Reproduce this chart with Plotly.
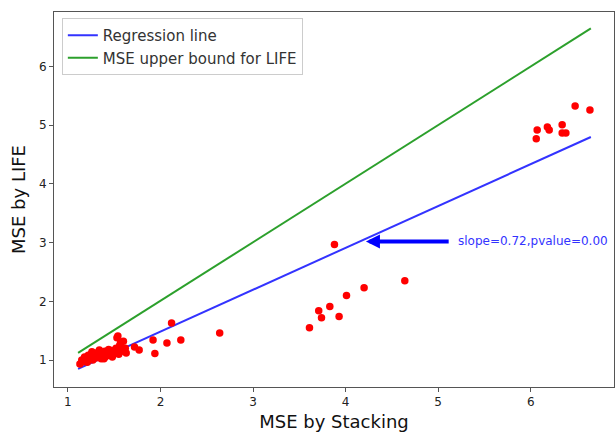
import plotly.graph_objects as go

# Scatter data: MSE by Stacking (x) vs MSE by LIFE (y)
stack_mse = [1.13, 1.15, 1.17, 1.18, 1.20, 1.21, 1.22, 1.24, 1.25, 1.27, 1.28, 1.30,
             1.31, 1.33, 1.35, 1.36, 1.38, 1.40, 1.41, 1.43, 1.45, 1.47, 1.48, 1.50,
             1.52, 1.53, 1.55, 1.56, 1.58, 1.60, 1.62, 1.63, 1.54, 1.57, 1.26, 1.34,
             1.44, 1.19, 1.39, 1.49,
             1.72, 1.77, 1.92, 1.94, 2.07, 2.12, 2.22, 2.64,
             3.61, 3.71, 3.74, 3.83, 3.88, 3.93, 4.01, 4.20, 4.64,
             6.06, 6.07, 6.18, 6.20, 6.34, 6.34, 6.38, 6.48, 6.64]
life_mse = [0.93, 1.00, 0.97, 1.05, 1.02, 0.96, 1.08, 1.03, 1.10, 1.00, 1.06, 1.12,
            1.04, 1.08, 1.13, 1.02, 1.10, 1.15, 1.06, 1.12, 1.08, 1.16, 1.05, 1.12,
            1.20, 1.38, 1.10, 1.25, 1.15, 1.32, 1.20, 1.12, 1.41, 1.30, 1.14, 1.17,
            1.18, 0.99, 1.02, 1.09,
            1.22, 1.17, 1.34, 1.11, 1.29, 1.63, 1.34, 1.46,
            1.55, 1.84, 1.72, 1.91, 2.97, 1.74, 2.10, 2.23, 2.35,
            4.77, 4.92, 4.97, 4.92, 5.01, 4.87, 4.87, 5.33, 5.26]

# Line endpoints
reg_x = [1.11, 6.65]
reg_y = [0.85, 4.80]
bound_x = [1.11, 6.65]
bound_y = [1.12, 6.65]

x_ticks = [1, 2, 3, 4, 5, 6]
y_ticks = [1, 2, 3, 4, 5, 6]

font_fam = "DejaVu Sans"

fig = go.Figure()
fig.add_trace(go.Scatter(x=reg_x, y=reg_y, mode="lines", name="Regression line",
                         line=dict(color="#3333ff", width=2)))
fig.add_trace(go.Scatter(x=bound_x, y=bound_y, mode="lines", name="MSE upper bound for LIFE",
                         line=dict(color="#2ca02c", width=2)))
fig.add_trace(go.Scatter(x=stack_mse, y=life_mse, mode="markers", showlegend=False,
                         marker=dict(color="red", size=7.5, line=dict(width=0))))

# Arrow + text annotation
fig.add_annotation(x=4.22, y=3.02, ax=5.13, ay=3.02, axref="x", ayref="y",
                   xref="x", yref="y", text="", showarrow=True,
                   arrowhead=2, arrowsize=0.7, arrowwidth=4, arrowcolor="#0000ff")
fig.add_annotation(x=5.19, y=3.02, xref="x", yref="y", text="slope=0.72,pvalue=0.00",
                   showarrow=False, xanchor="left", yanchor="middle",
                   font=dict(family=font_fam, size=12, color="#3333ff"))

axis_common = dict(showline=True, linecolor="#555", linewidth=1, mirror=True,
                   ticks="outside", ticklen=4, tickcolor="#555", showgrid=False,
                   zeroline=False, tickfont=dict(family=font_fam, size=12, color="#222"))

fig.update_xaxes(range=[0.85, 6.90], tickvals=x_ticks,
                 title=dict(text="MSE by Stacking", font=dict(family=font_fam, size=18, color="#111"),
                            standoff=6), **axis_common)
fig.update_yaxes(range=[0.54, 6.93], tickvals=y_ticks,
                 title=dict(text="MSE by LIFE", font=dict(family=font_fam, size=18, color="#111"),
                            standoff=8), **axis_common)

fig.update_layout(
    width=616, height=434,
    margin=dict(l=54, r=2, t=12, b=47),
    paper_bgcolor="white", plot_bgcolor="white",
    legend=dict(x=0.014, y=0.984, xanchor="left", yanchor="top",
                bgcolor="rgba(255,255,255,0.8)", bordercolor="#ccc", borderwidth=1,
                font=dict(family=font_fam, size=15, color="#333"),
                tracegroupgap=0, itemwidth=30),
    showlegend=True,
)

fig.write_html("out.html")
